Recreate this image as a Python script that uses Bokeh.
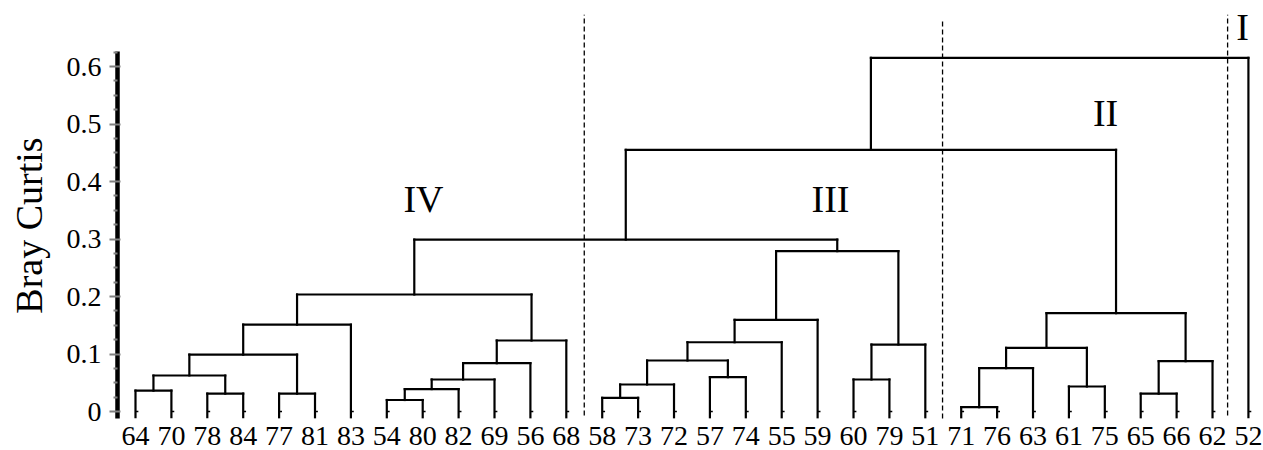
from bokeh.plotting import figure
from bokeh.models import Range1d, FixedTicker, Label, LabelSet, ColumnDataSource
from bokeh.embed import file_html
from bokeh.resources import INLINE

# ---------------- data ----------------
leaf_labels = ["64", "70", "78", "84", "77", "81", "83", "54", "80", "82", "69", "56", "68",
               "58", "73", "72", "57", "74", "55", "59", "60", "79", "51",
               "71", "76", "63", "61", "75", "65", "66", "62", "52"]

merge_names = ["m1", "m2", "m3", "m4", "m5", "m6", "m7", "m8", "m9", "m10", "m11", "m12",
               "m13", "m14", "m15", "m16", "m17", "m18", "m19", "m20", "m21", "m22",
               "m23", "m24", "m25", "m26", "m27", "m28", "m29", "m30", "m31"]
merge_left = ["64", "78", "77", "m1", "m4", "m5", "54", "m7", "m8", "m9", "m10", "m6",
              "58", "m13", "57", "m14", "m16", "m17", "60", "m19", "m18", "m12",
              "71", "m23", "61", "m24", "65", "m27", "m26", "m22", "m30"]
merge_right = ["70", "84", "81", "m2", "m3", "83", "80", "82", "69", "56", "68", "m11",
               "73", "72", "74", "m15", "55", "59", "79", "51", "m20", "m21",
               "76", "63", "75", "m25", "66", "62", "m28", "m29", "52"]
merge_height = [0.0365, 0.031, 0.031, 0.0626, 0.099, 0.151, 0.020, 0.039, 0.0557, 0.084, 0.1235, 0.2035,
                0.0238, 0.047, 0.0597, 0.0887, 0.1205, 0.1594, 0.0557, 0.1165, 0.279, 0.299,
                0.0075, 0.0754, 0.0435, 0.1107, 0.031, 0.0875, 0.171, 0.455, 0.615]

group_names = ["IV", "III", "II", "I"]
group_boundaries = [12.5, 22.48, 30.42]

y_ticks = [0, 0.1, 0.2, 0.3, 0.4, 0.5, 0.6]

# ---------------- geometry from the tree ----------------
FONT = "Liberation Serif"
LEAF_BOTTOM = -0.01
LEAF_LABEL_Y = -0.0426
pos = {lab: float(i) for i, lab in enumerate(leaf_labels)}
bottom = {lab: LEAF_BOTTOM for lab in leaf_labels}

x0s, y0s, x1s, y1s = [], [], [], []
for name, l, r, h in zip(merge_names, merge_left, merge_right, merge_height):
    xl, xr = pos[l], pos[r]
    x0s += [xl, xr, xl]
    y0s += [bottom[l], bottom[r], h]
    x1s += [xl, xr, xr]
    y1s += [h, h, h]
    pos[name] = (xl + xr) / 2
    bottom[name] = h

p = figure(width=1263, height=450, output_backend="svg", toolbar_location=None,
           x_range=Range1d(-0.5014, 31.42), y_range=Range1d(-0.0678, 0.7148),
           x_axis_location=None, min_border_left=117, min_border_right=0,
           min_border_top=0, min_border_bottom=0)
p.outline_line_color = None
p.grid.visible = False
p.background_fill_color = "white"
p.border_fill_color = "white"

# dashed group separators
for i, b in enumerate(group_boundaries):
    top = 0.682 if i == 1 else 0.69
    bot = -0.012 if i == 1 else -0.007
    p.segment(x0=[b], y0=[bot], x1=[b], y1=[top], line_color="black",
              line_width=1.3, line_dash="5 3")

# dendrogram links
p.segment(x0=x0s, y0=y0s, x1=x1s, y1=y1s, line_color="black", line_width=2.2,
          line_cap="square")

# small stubs at leaf bottoms
lx = [pos[l] for l in leaf_labels]
p.segment(x0=lx, y0=[0.0] * len(lx), x1=[x + 0.08 for x in lx], y1=[0.0] * len(lx),
          line_color="black", line_width=1.5)

# leaf labels
leaf_src = ColumnDataSource(dict(x=lx, y=[LEAF_LABEL_Y] * len(lx), text=leaf_labels))
p.add_layout(LabelSet(x="x", y="y", text="text", source=leaf_src, text_align="center",
                      text_baseline="middle", text_font=FONT, text_font_size="28px",
                      text_color="black"))

# group labels
group_xy = {"I": (30.84, 0.668), "II": (27.02, 0.52), "III": (19.36, 0.370), "IV": (8.02, 0.369)}
for g in group_names:
    gx, gy = group_xy[g]
    p.add_layout(Label(x=gx, y=gy, text=g, text_align="center", text_baseline="middle",
                       text_font=FONT, text_font_size="38px", text_color="black"))

# y axis
ax = p.yaxis[0]
ax.bounds = (-0.012, 0.626)
ax.ticker = FixedTicker(ticks=y_ticks,
                        minor_ticks=[round(0.025 * k, 3) for k in range(26) if k % 4])
ax.major_label_overrides = {0: "0"}
ax.axis_line_color = "black"
ax.axis_line_width = 4.5
ax.major_tick_line_color = "#808080"
ax.major_tick_line_width = 2
ax.major_tick_out = 8
ax.major_tick_in = 3
ax.minor_tick_line_color = "#808080"
ax.minor_tick_line_width = 2
ax.minor_tick_out = 4
ax.minor_tick_in = 0
ax.major_label_text_font = FONT
ax.major_label_text_font_size = "28px"
ax.major_label_text_color = "black"
ax.major_label_standoff = 8
ax.axis_label = "Bray Curtis"
ax.axis_label_text_font = FONT
ax.axis_label_text_font_size = "38px"
ax.axis_label_text_font_style = "normal"
ax.axis_label_text_color = "black"
ax.axis_label_standoff = 14

open("out.html", "w").write(file_html(p, INLINE))
